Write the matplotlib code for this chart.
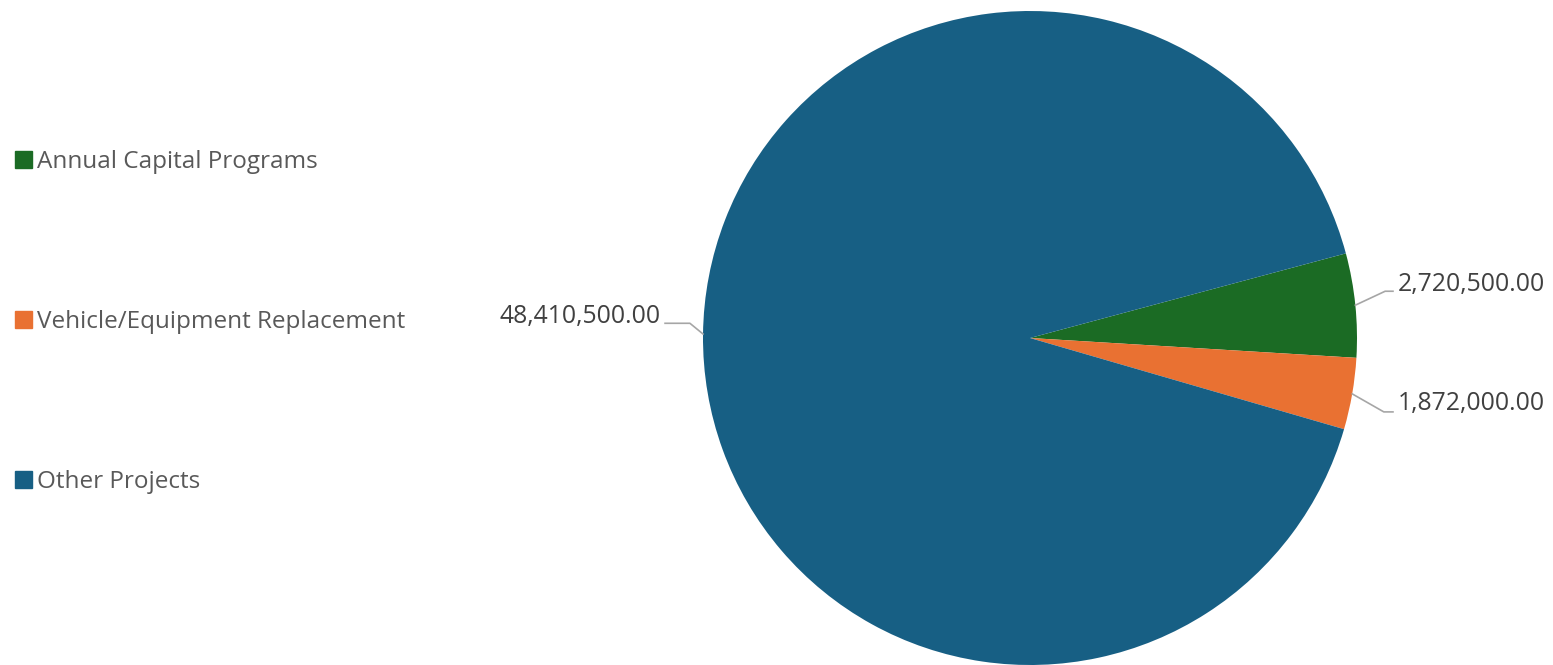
import numpy as np
import matplotlib.pyplot as plt
from matplotlib.patches import Patch

categories = ["Annual Capital Programs", "Vehicle/Equipment Replacement", "Other Projects"]
values = [2720500.00, 1872000.00, 48410500.00]
colors = ["#1B6B24", "#E97132", "#175F84"]

plt.rcParams['font.family'] = ['Open Sans', 'DejaVu Sans']

W, H = 1553, 665
fig = plt.figure(figsize=(W / 100, H / 100), dpi=100)

# pie axes: centre (1030, 338) px, radius 327 px
cx, cy, r = 1030, 338, 327
ax = fig.add_axes([(cx - r) / W, (H - cy - r) / H, 2 * r / W, 2 * r / H])
wedges, _ = ax.pie(values, colors=colors, startangle=15, counterclock=False,
                   radius=1, wedgeprops=dict(linewidth=0))
ax.set_xlim(-1, 1)
ax.set_ylim(-1, 1)
ax.set_aspect('equal')
ax.axis('off')

# data labels with leader lines
label_pos = [(1.125, 0.165), (1.125, -0.200), (-1.131, 0.066)]
knee = [(1.086, 0.143), (1.082, -0.226), (-1.04, 0.045)]
for i, (w, v) in enumerate(zip(wedges, values)):
    if i < 2:
        ang = np.deg2rad((w.theta1 + w.theta2) / 2)
    else:
        ang = np.deg2rad(179.3)
    px, py = np.cos(ang), np.sin(ang)
    kx, ky = knee[i]
    tx, ty = label_pos[i]
    ax.plot([px, kx, tx - 0.015 * np.sign(tx)], [py, ky, ky], color="#A6A6A6",
            lw=1.2, clip_on=False)
    ax.text(tx, ty, f"{v:,.2f}", ha='left' if tx > 0 else 'right',
            va='center', fontsize=17.8, color="#404040", clip_on=False)

handles = [Patch(facecolor=c, edgecolor=c) for c in colors]
fig.legend(handles, categories, loc='center left', bbox_to_anchor=(0.0, 0.516),
           frameon=False, fontsize=17.5, labelcolor="#595959",
           handlelength=0.7, handleheight=0.7, handletextpad=0.2,
           labelspacing=5.6, borderaxespad=0.22)

fig.savefig("out.png", dpi=100)
